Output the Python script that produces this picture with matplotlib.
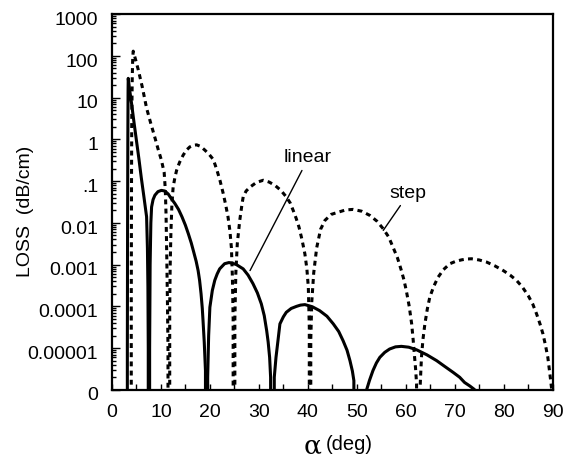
import matplotlib
matplotlib.use("Agg")
import matplotlib.pyplot as plt
import matplotlib.transforms as mtransforms
from matplotlib.ticker import FixedLocator, LogLocator, NullFormatter, MultipleLocator
import numpy as np

plt.rcParams['font.family'] = ['Liberation Sans', 'DejaVu Sans']

# Radiation loss vs. angle, linear-profile guide (solid), one list per lobe
linear_angle = [
    [3.1, 3.15, 3.2, 3.25, 3.3, 3.33, 3.6, 4.0, 4.5, 5.0, 5.5, 6.0, 6.5, 7.08, 7.25, 7.35, 7.42, 7.45],
    [7.6, 7.7, 7.8, 7.95, 8.1, 8.4, 8.78, 9.4, 10.1, 10.8, 11.5, 12.0, 12.86, 13.6, 14.3,
     15.0, 15.6, 16.2, 16.7, 17.2, 17.6, 17.9, 18.2, 18.45, 18.6, 18.85, 19.1, 19.25],
    [19.4, 19.55, 19.75, 20.0, 20.5, 21.0, 21.5, 22.0, 23.0, 23.9, 25.3, 26.8, 27.8, 28.8, 29.7,
     30.5, 31.1, 31.6, 31.9, 32.2, 32.4, 32.6],
    [33.0, 33.15, 33.5, 33.9, 34.3, 35.0, 35.6, 36.6, 37.7, 38.5, 39.4, 40.9, 42.4, 43.9, 45.2,
     46.3, 47.2, 48.0, 48.6, 49.1, 49.4, 49.6],
    [52.0, 52.6, 53.3, 54.0, 54.7, 55.7, 56.7, 57.9, 59.1, 60.6, 62.2, 64.3, 66.3, 68.0, 69.7,
     71.0, 72.0, 73.1, 74.1],
]
linear_loss = [
    [0, 1e-5, 1e-2, 1, 15, 29, 16, 7.4, 2.6, 0.95, 0.35, 0.12, 0.045, 0.014, 2.5e-3, 3e-4, 1e-5, 0],
    [0, 1e-5, 1e-3, 0.01, 0.024, 0.036, 0.046, 0.056, 0.06, 0.058, 0.049, 0.04, 0.029,
     0.021, 0.014, 8.8e-3, 5.5e-3, 3.3e-3, 2e-3, 1.2e-3, 7.2e-4, 4.2e-4, 2e-4, 9e-5, 4.6e-5,
     1.4e-5, 2.9e-6, 0],
    [0, 2e-6, 2e-5, 9.5e-5, 2.4e-4, 4.2e-4, 6e-4, 7.9e-4, 1.05e-3, 1.12e-3, 1.02e-3, 7.9e-4,
     5.6e-4, 3.5e-4, 2.1e-4, 1.15e-4, 6e-5, 2.6e-5, 1.4e-5, 6e-6, 2e-6, 0],
    [0, 2e-6, 6e-6, 1.5e-5, 3.8e-5, 5.6e-5, 7.2e-5, 8.9e-5, 1e-4, 1.07e-4, 1.1e-4, 9.8e-5, 7.9e-5,
     5.8e-5, 3.8e-5, 2.5e-5, 1.5e-5, 8.9e-6, 5e-6, 2.8e-6, 1.66e-6, 0],
    [1e-6, 1.7e-6, 2.9e-6, 4.4e-6, 6e-6, 7.9e-6, 9.5e-6, 1.07e-5, 1.1e-5, 1.05e-5, 9.1e-6, 6.9e-6,
     5e-6, 3.6e-6, 2.6e-6, 2e-6, 1.5e-6, 1.23e-6, 1e-6],
]

# Step-profile guide (dashed)
step_angle = [
    [3.9, 3.95, 4.0, 4.05, 4.15, 4.25, 4.35, 4.8, 5.37, 6.2, 7.08, 7.9, 8.78,
     9.4, 10.1, 10.67, 10.9, 11.05, 11.2, 11.35, 11.45, 11.5],
    [11.7, 11.8, 11.9, 12.05, 12.25, 12.5, 12.85, 13.2, 13.8, 14.55, 15.2, 15.9, 16.6, 17.3, 18.1,
     19.0, 19.9, 20.7, 21.4, 22.1, 22.7, 23.2, 23.7, 24.1, 24.4, 24.6, 24.75, 24.85],
    [25.0, 25.1, 25.3, 25.6, 26.1, 26.5, 26.8, 27.4, 28.2, 29.5, 30.9, 32.1, 33.3, 34.5, 35.6,
     36.4, 37.0, 37.6, 38.2, 38.8, 39.4, 39.8, 40.1, 40.3, 40.4],
    [40.5, 40.6, 40.8, 41.2, 41.8, 42.6, 43.5, 44.8, 46.2, 47.7, 49.25, 51.0, 52.7, 54.1, 55.4,
     56.5, 57.4, 58.3, 59.1, 59.6, 60.1, 60.7, 61.2, 61.5, 61.8, 62.0, 62.2, 62.3],
    [62.8, 62.9, 63.05, 63.2, 63.5, 63.9, 64.4, 64.9, 65.7, 66.6, 67.7, 69.0, 70.2, 71.4, 72.4,
     73.4, 75.0, 76.5, 78.2, 79.9, 81.3, 82.6, 83.8, 85.0, 85.9, 86.7, 87.4, 88.0, 88.5, 89.0,
     89.5, 89.8],
]
step_loss = [
    [0, 1e-4, 0.1, 3, 30, 90, 130, 84, 47, 18, 5.6, 2.5, 1.1,
     0.6, 0.32, 0.16, 0.063, 0.016, 1.6e-3, 1e-4, 1e-5, 0],
    [0, 1e-4, 1e-3, 6.3e-3, 0.028, 0.072, 0.12, 0.18, 0.28, 0.42, 0.55, 0.66, 0.72, 0.74, 0.68,
     0.55, 0.43, 0.33, 0.19, 0.1, 0.052, 0.028, 0.014, 6.3e-3, 2.5e-3, 5e-4, 5e-5, 0],
    [0, 5e-5, 6.3e-4, 3.2e-3, 0.0115, 0.025, 0.042, 0.058, 0.072, 0.093, 0.105, 0.095, 0.079,
     0.06, 0.042, 0.03, 0.02, 0.013, 7.9e-3, 4e-3, 1.8e-3, 8e-4, 2.9e-4, 3.2e-5, 0],
    [0, 1.6e-5, 1.26e-4, 6.3e-4, 2.5e-3, 7e-3, 0.0115, 0.016, 0.018, 0.0204, 0.021, 0.019, 0.015,
     0.011, 7.2e-3, 4.6e-3, 2.6e-3, 1.45e-3, 7.2e-4, 4.4e-4, 2.4e-4, 1e-4, 3.8e-5, 1.6e-5,
     6e-6, 3.2e-6, 1.4e-6, 0],
    [0, 1e-6, 2.5e-6, 6e-6, 1.6e-5, 3.8e-5, 8.7e-5, 1.66e-4, 3e-4, 5e-4, 7.6e-4, 1.05e-3, 1.2e-3,
     1.3e-3, 1.36e-3, 1.38e-3, 1.29e-3, 1.15e-3, 9.3e-4, 7.2e-4, 5.6e-4, 4.2e-4, 2.9e-4, 1.8e-4,
     1.15e-4, 6.6e-5, 3.8e-5, 2.2e-5, 1.2e-5, 6e-6, 2e-6, 1e-6],
]

y_ticks = [1e-6, 1e-5, 1e-4, 1e-3, 1e-2, 1e-1, 1, 10, 100, 1000]
y_tick_labels = ["0", "0.00001", "0.0001", "0.001", "0.01", ".1", "1", "10", "100", "1000"]
x_ticks = [0, 10, 20, 30, 40, 50, 60, 70, 80, 90]

fig = plt.figure(figsize=(5.71, 4.57), dpi=100)
ax = fig.add_axes([0.196, 0.147, 0.772, 0.822])
ax.set_yscale('log', nonpositive='clip')

for xs, ys in zip(linear_angle, linear_loss):
    ax.plot(xs, ys, color='black', lw=2.2, solid_capstyle='butt', solid_joinstyle='round')
for xs, ys in zip(step_angle, step_loss):
    ax.plot(xs, ys, color='black', lw=2.2, linestyle=(0, (1.6, 1.4)), dash_capstyle='butt')

ax.set_xlim(0, 90)
ax.set_ylim(1e-6, 1e3)

ax.yaxis.set_major_locator(FixedLocator(y_ticks))
ax.set_yticklabels(y_tick_labels)
ax.yaxis.set_minor_locator(LogLocator(base=10, subs=np.arange(2, 10), numticks=20))
ax.yaxis.set_minor_formatter(NullFormatter())
ax.set_xticks(x_ticks)
ax.xaxis.set_minor_locator(MultipleLocator(5))

ax.tick_params(axis='both', which='both', direction='in', top=False, right=False, width=1.0)
ax.tick_params(axis='y', which='major', length=6, pad=10, labelsize=14)
ax.tick_params(axis='y', which='minor', length=3)
ax.tick_params(axis='x', which='major', length=4, pad=10, labelsize=14)
ax.tick_params(axis='x', which='minor', length=4)

offset = mtransforms.ScaledTranslation(0, -3 / 72, fig.dpi_scale_trans)
for lab in ax.get_yticklabels():
    lab.set_transform(lab.get_transform() + offset)

for sp in ax.spines.values():
    sp.set_linewidth(1.6)

ax.set_ylabel("LOSS  (dB/cm)", fontsize=14)
ax.yaxis.set_label_coords(-0.177, 0.476)
fig.text(304 / 571, 1 - 446 / 457, "α", fontsize=19, family='DejaVu Serif', ha='left', va='center')
fig.text(326 / 571, 1 - 445 / 457, "(deg)", fontsize=14.5, ha='left', va='center')

# curve labels with leader lines
ax.text(40.0, 0.37, "linear", fontsize=14, ha='center', va='center')
ax.annotate("", xy=(28.2, 7.2e-4), xytext=(38.8, 0.18),
            arrowprops=dict(arrowstyle='-', lw=1.0, color='black', shrinkA=0, shrinkB=0))
ax.text(60.4, 0.05, "step", fontsize=14, ha='center', va='center')
ax.annotate("", xy=(55.4, 6.6e-3), xytext=(58.9, 0.026),
            arrowprops=dict(arrowstyle='-', lw=1.0, color='black', shrinkA=0, shrinkB=0))

fig.savefig("out.png", dpi=100)
